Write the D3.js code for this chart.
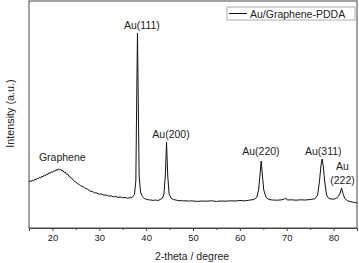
<!DOCTYPE html>
<html>
<head>
<meta charset="utf-8">
<script src="https://cdn.jsdelivr.net/npm/d3@7"></script>
<style>
  html, body { margin: 0; padding: 0; background: #fff; overflow: hidden; }
  svg { display: block; font-family: "Liberation Sans", Arial, sans-serif; }
</style>
</head>
<body>
<svg id="chart"></svg>
<script>
// 2-theta (degree) and intensity (a.u.)
const twoTheta = [
  15, 15.25, 15.5, 15.75, 16, 16.25, 16.5, 16.75, 17, 17.25, 17.5, 17.75,
  18, 18.25, 18.5, 18.75, 19, 19.25, 19.5, 19.75, 20, 20.25, 20.5, 20.75,
  21, 21.25, 21.5, 21.75, 22, 22.25, 22.5, 22.75, 23, 23.25, 23.5, 23.75,
  24, 24.25, 24.5, 24.75, 25, 25.25, 25.5, 25.75,
  26, 26.5, 27, 27.5, 28, 28.5, 29, 29.5, 30, 30.5, 31, 31.5,
  32, 32.5, 33, 33.5, 34, 34.5, 35, 35.5, 36, 36.5, 37,
  37.5, 37.8, 38.0, 38.15, 38.3, 38.5, 38.8, 39.2, 39.6, 40, 40.5, 41,
  41.5, 42, 42.5, 43, 43.5, 43.8, 44.1, 44.35, 44.6, 44.9, 45.3, 45.8,
  46.5, 47, 47.5, 48, 48.5, 49, 49.5, 50, 51, 52, 53, 54,
  55, 56, 57, 58, 59, 60, 61, 62, 63, 63.6, 64.0, 64.3,
  64.55, 64.8, 65.1, 65.6, 66.2, 67, 68, 69, 69.5, 69.8, 70.1, 71,
  72, 73, 74, 75, 76, 76.6, 77.0, 77.3, 77.55, 77.8, 78.1, 78.5,
  79, 79.5, 80, 80.5, 81, 81.4, 81.7, 82.0, 82.4, 83, 83.5, 84, 84.5, 85
];
const intensity = [
  460, 472, 465, 480, 470, 488, 482, 498, 492, 508, 500, 518,
  512, 530, 522, 540, 535, 552, 545, 562, 555, 572, 566, 585,
  575, 592, 580, 588, 570, 575, 555, 558, 538, 540, 518, 515,
  498, 492, 475, 470, 455, 452, 438, 435,
  422, 415, 395, 388, 370, 365, 352, 350, 338, 340, 328, 330,
  318, 322, 312, 316, 306, 310, 302, 306, 298, 302, 305,
  335, 470, 1350, 1950, 1350, 520, 360, 315, 295, 288, 282, 280,
  276, 280, 275, 285, 300, 340, 530, 860, 530, 340, 300, 285,
  278, 272, 275, 270, 273, 268, 272, 270, 266, 270, 268, 272,
  266, 270, 268, 272, 270, 275, 272, 278, 285, 305, 380, 530,
  670, 530, 380, 305, 285, 280, 278, 282, 290, 300, 280, 282,
  278, 282, 280, 285, 292, 330, 470, 620, 690, 620, 470, 330,
  295, 290, 288, 295, 315, 350, 400, 345, 295, 272, 265, 260, 255, 250
];

// peak labels: text lines, the 2-theta they sit over and their baseline level
const labelText = [["Graphene"], ["Au(111)"], ["Au(200)"], ["Au(220)"], ["Au(311)"], ["Au", "(222)"]];
const labelTheta = [22.1, 39.1, 45.3, 64.5, 77.8, 81.9];
const labelLevel = [670, 1990, 900, 730, 730, 440];

const xTicks = [20, 30, 40, 50, 60, 70, 80];
const xMinorTicks = [25, 35, 45, 55, 65, 75];
const seriesName = "Au/Graphene-PDDA";

const width = 359, height = 263;
const margin = { top: 1, right: 2, bottom: 35, left: 29 };
const innerWidth = width - margin.left - margin.right;
const innerHeight = height - margin.top - margin.bottom;

const svg = d3.select("#chart").attr("width", width).attr("height", height);
const g = svg.append("g").attr("transform", `translate(${margin.left},${margin.top})`);

const x = d3.scaleLinear().domain([15, 85]).range([0, innerWidth]);
const y = d3.scaleLinear().domain([0, 2270]).range([innerHeight, 0]);

const data = twoTheta.map((t, i) => ({ t, v: intensity[i] }));

// frame
g.append("rect")
  .attr("x", 0).attr("y", 0)
  .attr("width", innerWidth).attr("height", innerHeight)
  .attr("fill", "none").attr("stroke", "#444").attr("stroke-width", 1);

// bottom axis with minor ticks
const xAxis = g.append("g")
  .attr("transform", `translate(0,${innerHeight})`)
  .call(d3.axisBottom(x).tickValues(xTicks).tickSize(3).tickPadding(3));
xAxis.select(".domain").attr("stroke", "#444");
xAxis.selectAll(".tick line").attr("stroke", "#444");
xAxis.selectAll("text").attr("font-size", "9.5px").attr("fill", "#222")
  .attr("font-family", "'Liberation Sans', Arial, sans-serif");

g.append("g")
  .attr("transform", `translate(0,${innerHeight})`)
  .call(d3.axisBottom(x).tickValues(xMinorTicks).tickSize(2).tickFormat(""))
  .call(a => a.select(".domain").remove())
  .selectAll(".tick line").attr("stroke", "#444");

// curve
g.append("path")
  .datum(data)
  .attr("fill", "none")
  .attr("stroke", "#111")
  .attr("stroke-width", 1)
  .attr("stroke-linejoin", "round")
  .attr("d", d3.line().x(d => x(d.t)).y(d => y(d.v)));

// peak labels
labelText.forEach((lines, i) => {
  const txt = g.append("text")
    .attr("text-anchor", "middle")
    .attr("font-size", "10.5px")
    .attr("fill", "#222");
  lines.forEach((s, j) => {
    txt.append("tspan")
      .attr("x", x(labelTheta[i]))
      .attr("y", y(labelLevel[i]) - (lines.length - 1 - j) * 14)
      .text(s);
  });
});

// axis titles
svg.append("text")
  .attr("x", margin.left + innerWidth / 2 - 1)
  .attr("y", 260)
  .attr("text-anchor", "middle")
  .attr("font-size", "10.5px")
  .attr("fill", "#222")
  .text("2-theta / degree");

svg.append("text")
  .attr("transform", `translate(14,${margin.top + innerHeight / 2 - 1}) rotate(-90)`)
  .attr("text-anchor", "middle")
  .attr("font-size", "10.8px")
  .attr("fill", "#222")
  .text("Intensity (a.u.)");

// legend
const legend = svg.append("g").attr("transform", "translate(227,7)");
legend.append("rect")
  .attr("width", 128).attr("height", 13)
  .attr("fill", "#fff").attr("stroke", "#999").attr("stroke-width", 0.8);
legend.append("line")
  .attr("x1", 2).attr("x2", 20).attr("y1", 6.5).attr("y2", 6.5)
  .attr("stroke", "#111").attr("stroke-width", 1);
legend.append("text")
  .attr("x", 23).attr("y", 10.5)
  .attr("font-size", "10.5px")
  .attr("fill", "#222")
  .text(seriesName);
</script>
</body>
</html>
